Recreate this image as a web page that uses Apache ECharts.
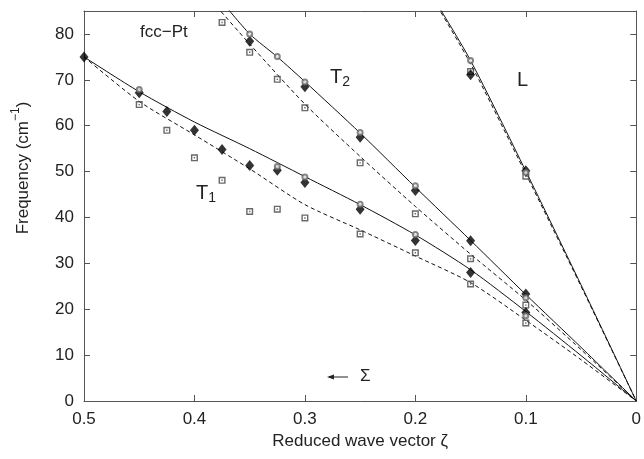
<!DOCTYPE html>
<html><head><meta charset="utf-8">
<script src="https://cdn.jsdelivr.net/npm/echarts/dist/echarts.min.js"></script>
<style>html,body{margin:0;padding:0;background:#fff}#c{width:644px;height:459px}</style>
</head><body><div id="c"></div>
<script>
// ---------- data ----------
const xTickLabels = ['0', '0.1', '0.2', '0.3', '0.4', '0.5'];
const yTickLabels = ['0', '10', '20', '30', '40', '50', '60', '70', '80'];

// T1 branch
const t1Diamond = [[0.5,75.0],[0.45,67.2],[0.425,63.1],[0.4,59.0],[0.375,54.8],[0.35,51.3],[0.325,50.3],[0.3,47.6],[0.25,41.8],[0.2,35.0],[0.15,28.0],[0.1,19.3]];
const t1Circle  = [[0.45,67.9],[0.325,51.1],[0.3,48.8],[0.25,42.9],[0.2,36.3],[0.1,18.6]];
const t1Square  = [[0.45,64.6],[0.425,59.0],[0.4,53.0],[0.375,48.1],[0.35,41.3],[0.325,41.8],[0.3,39.9],[0.25,36.4],[0.2,32.3],[0.15,25.5],[0.1,17.0]];
const t1Solid   = [[0.5,75.0],[0.45,67.4],[0.4,60.8],[0.35,55.0],[0.3,48.9],[0.25,42.8],[0.2,36.2],[0.15,28.6],[0.1,19.5],[0.05,9.9],[0,0]];
const t1Dashed  = [[0.5,75.0],[0.45,65.3],[0.4,58.0],[0.35,50.6],[0.3,42.8],[0.25,37.3],[0.2,31.6],[0.15,25.8],[0.1,17.6],[0.05,9.0],[0,0]];

// T2 branch
const t2Diamond = [[0.35,78.4],[0.3,68.5],[0.25,57.5],[0.2,45.9],[0.15,34.9],[0.1,23.3]];
const t2Circle  = [[0.35,80.0],[0.325,75.1],[0.3,69.5],[0.25,58.5],[0.2,46.9],[0.1,22.5]];
const t2Square  = [[0.375,82.5],[0.35,76.0],[0.325,70.1],[0.3,63.9],[0.25,51.9],[0.2,40.8],[0.15,31.0],[0.1,20.9]];
const t2Solid   = [[0.375,87.0],[0.35,80.0],[0.325,75.0],[0.3,69.6],[0.25,58.4],[0.2,46.6],[0.15,35.0],[0.1,23.2],[0.05,11.7],[0,0]];
const t2Dashed  = [[0.38,86.0],[0.35,77.8],[0.3,64.7],[0.25,53.3],[0.2,42.4],[0.15,32.0],[0.1,22.0],[0.05,11.2],[0,0]];

// L branch
const lDiamond = [[0.15,71.1],[0.1,50.2]];
const lCircle  = [[0.15,74.2],[0.1,49.8]];
const lSquare  = [[0.15,71.8],[0.1,49.0]];
const lSolid   = [[0.18,86.4],[0.15,74.2],[0.1,50.1],[0.05,25.3],[0,0]];
const lDashed  = [[0.18,86.0],[0.15,73.5],[0.1,49.5],[0.05,25.0],[0,0]];

// ---------- chart ----------
const FONT = '"Liberation Sans", Arial, Helvetica, sans-serif';
const AX = '#555';
const chart = echarts.init(document.getElementById('c'), null, {renderer: 'canvas'});

function xAxisDef(pos, labels) {
  return {
    type: 'value', min: 0, max: 0.5, interval: 0.1, inverse: true, position: pos,
    axisLine: {show: true, onZero: false, lineStyle: {color: AX, width: 1}},
    axisTick: {show: true, inside: true, length: 6, lineStyle: {color: AX}},
    splitLine: {show: false},
    axisLabel: {show: labels, fontSize: 17, color: '#222', margin: 10, fontFamily: FONT,
      formatter: v => xTickLabels[Math.round(v * 10)] ?? ''}
  };
}
function yAxisDef(pos, labels) {
  return {
    type: 'value', min: 0, max: 85, interval: 10, position: pos,
    axisLine: {show: true, onZero: false, lineStyle: {color: AX, width: 1}},
    axisTick: {show: true, inside: true, length: 6, lineStyle: {color: AX}},
    splitLine: {show: false},
    axisLabel: {show: labels, fontSize: 17, color: '#222', margin: 10, fontFamily: FONT, showMaxLabel: false,
      formatter: v => (v <= 80 ? yTickLabels[Math.round(v / 10)] : '')}
  };
}

const sqPath = 'path://M0,0H10V10H0Z M2,2V8H8V2Z M4,4H6V6H4Z';

function line(data, dashed) {
  return {type: 'line', data, symbol: 'none', smooth: 0.25, silent: true, z: 2,
    lineStyle: {color: '#111', width: 1, type: dashed ? [4, 3] : 'solid'}, clip: true};
}
function squares(data) {
  return {type: 'scatter', data, symbol: sqPath, symbolSize: 7, z: 3,
    itemStyle: {color: '#444'}};
}
function circles(data) {
  return {type: 'scatter', data, symbol: 'emptyCircle', symbolSize: 5, z: 5,
    itemStyle: {color: '#666', borderWidth: 1}};
}
function diamonds(data) {
  return {type: 'scatter', data, symbol: 'diamond', symbolSize: [9, 11], z: 4,
    itemStyle: {color: '#000'}};
}

const xax = xAxisDef('bottom', true);
xax.name = 'Reduced wave vector ζ';
xax.nameLocation = 'middle';
xax.nameGap = 32;
xax.nameTextStyle = {fontSize: 17, color: '#222', fontFamily: FONT};

chart.setOption({
  animation: false,
  backgroundColor: '#fff',
  grid: {left: 84, right: 6, top: 11, bottom: 58, containLabel: false},
  xAxis: [xax, xAxisDef('top', false)],
  yAxis: [yAxisDef('left', true), yAxisDef('right', false)],
  series: [
    line(t1Solid, false), line(t1Dashed, true),
    line(t2Solid, false), line(t2Dashed, true),
    line(lSolid, false), line(lDashed, true),
    squares(t1Square), squares(t2Square), squares(lSquare),
    diamonds(t1Diamond), diamonds(t2Diamond), diamonds(lDiamond),
    circles(t1Circle), circles(t2Circle), circles(lCircle)
  ],
  graphic: [
    {type: 'text', left: 140, top: 24, style: {text: 'fcc−Pt', font: '17px ' + FONT, fill: '#222'}},
    {type: 'text', left: 330, top: 67, style: {text: '{m|T}{s|2}', fill: '#222',
      rich: {m: {fontSize: 20, fontFamily: FONT, color: '#222'}, s: {fontSize: 14, fontFamily: FONT, color: '#222', padding: [10, 0, 0, 0]}}}},
    {type: 'text', left: 517, top: 70, style: {text: 'L', font: '20px ' + FONT, fill: '#222'}},
    {type: 'text', left: 196, top: 183, style: {text: '{m|T}{s|1}', fill: '#222',
      rich: {m: {fontSize: 20, fontFamily: FONT, color: '#222'}, s: {fontSize: 14, fontFamily: FONT, color: '#222', padding: [10, 0, 0, 0]}}}},
    // "← Σ" direction marker
    {type: 'line', shape: {x1: 329, y1: 377, x2: 348, y2: 377}, style: {stroke: '#222', lineWidth: 1}},
    {type: 'polygon', shape: {points: [[327, 377], [334, 374.5], [334, 379.5]]}, style: {fill: '#222'}},
    {type: 'text', left: 360, top: 368, style: {text: 'Σ', font: '17px ' + FONT, fill: '#222'}},
    {type: 'text', x: 20, y: 168, rotation: Math.PI / 2,
      style: {text: '{a|Frequency (cm}{p|−1}{a|)}', align: 'center', verticalAlign: 'middle', fill: '#222',
        rich: {a: {fontSize: 17, fontFamily: FONT, color: '#222', padding: [6, 0, 0, 0]}, p: {fontSize: 12, fontFamily: FONT, color: '#222', padding: [0, 0, 8, 0]}}}}
  ]
});
</script></body></html>
